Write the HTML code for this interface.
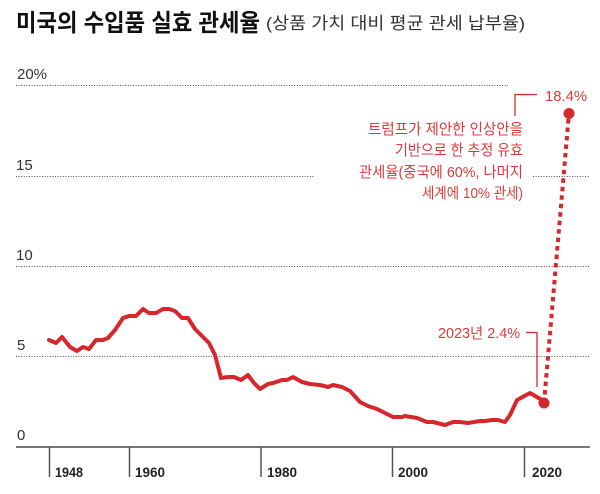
<!DOCTYPE html>
<html>
<head>
<meta charset="utf-8">
<style>
  html, body { margin: 0; padding: 0; background: #ffffff; }
  body { width: 600px; height: 494px; overflow: hidden; }
  svg { display: block; }
  .kr { font-family: "Liberation Sans", "Noto Sans CJK KR", "NanumGothic", sans-serif; }
</style>
</head>
<body>
<svg width="600" height="494" viewBox="0 0 600 494" xmlns="http://www.w3.org/2000/svg">
  <rect width="600" height="494" fill="#ffffff"/>

  <!-- Title -->
  <text class="kr" x="16" y="31" font-size="24" font-weight="bold" fill="#111111" textLength="244" lengthAdjust="spacingAndGlyphs">미국의 수입품 실효 관세율</text>
  <text class="kr" x="266" y="29" font-size="17" fill="#333333" textLength="259" lengthAdjust="spacingAndGlyphs">(상품 가치 대비 평균 관세 납부율)</text>

  <!-- Gridlines (dotted) -->
  <g stroke="#555555" stroke-width="1" stroke-dasharray="1,1.6" fill="none">
    <line x1="16" y1="85.5" x2="508" y2="85.5"/>
    <line x1="16" y1="176.5" x2="314" y2="176.5"/>
    <line x1="533" y1="176.5" x2="590" y2="176.5"/>
    <line x1="16" y1="266.5" x2="590" y2="266.5"/>
    <line x1="16" y1="356.5" x2="590" y2="356.5"/>
  </g>

  <!-- Y labels -->
  <g class="kr" font-size="15" fill="#333333">
    <text x="17" y="79" textLength="30" lengthAdjust="spacingAndGlyphs">20%</text>
    <text x="16" y="170">15</text>
    <text x="16" y="260">10</text>
    <text x="17" y="350">5</text>
    <text x="17" y="440">0</text>
  </g>

  <!-- X axis -->
  <line x1="16" y1="447" x2="590" y2="447" stroke="#777777" stroke-width="2"/>
  <g stroke="#555555" stroke-width="1.5">
    <line x1="49.5" y1="447" x2="49.5" y2="477"/>
    <line x1="129.5" y1="447" x2="129.5" y2="477"/>
    <line x1="261" y1="447" x2="261" y2="477"/>
    <line x1="392.5" y1="447" x2="392.5" y2="477"/>
    <line x1="524.5" y1="447" x2="524.5" y2="477"/>
  </g>
  <g class="kr" font-size="14" font-weight="bold" fill="#222222">
    <text x="55" y="477" textLength="28" lengthAdjust="spacingAndGlyphs">1948</text>
    <text x="135" y="477" textLength="30" lengthAdjust="spacingAndGlyphs">1960</text>
    <text x="267" y="477" textLength="30" lengthAdjust="spacingAndGlyphs">1980</text>
    <text x="398" y="477" textLength="30" lengthAdjust="spacingAndGlyphs">2000</text>
    <text x="532" y="477" textLength="30" lengthAdjust="spacingAndGlyphs">2020</text>
  </g>

  <!-- Series -->
  <polyline fill="none" stroke="#d6272d" stroke-width="4" stroke-linejoin="round" stroke-linecap="round"
    points="49,340 56,343 62,337 70,347 77,351 83,347 89,349 96,340 103,340 108,338 115,330 123,318 129,316 136,316 143,309 149,313 156,313 163,309 169,309 175,311 182,318 188,318 195,329 203,337 209,343 215,355 221,378 228,377 234,377 241,380 248,375 254,383 260,389 268,384 273,383 282,380 287,380 293,377 302,382 310,384 320,385 328,387 333,385 342,387 350,391 360,402 368,406 377,409 383,412 393,417 402,417 405,416 417,418 427,422 433,422 445,425 453,422 460,422 468,423 480,421 485,421 492,420 498,420 505,422 510,415 517,400 530,393 542,400 544,403"/>

  <!-- Projection dotted line -->
  <line x1="544" y1="403" x2="569" y2="113" stroke="#d6272d" stroke-width="4" stroke-dasharray="4.5,4"/>
  <circle cx="544" cy="403" r="5.5" fill="#d6272d"/>
  <circle cx="569" cy="113.5" r="5.5" fill="#d6272d"/>

  <!-- Leader lines -->
  <polyline fill="none" stroke="#d6272d" stroke-width="1.3" points="515,116 515,94.5 537,94.5"/>
  <polyline fill="none" stroke="#d6272d" stroke-width="1.3" points="526,332.5 537,332.5 537,387"/>

  <!-- Annotations -->
  <g class="kr" font-size="15" fill="#dc3a3e">
    <text x="545" y="101" textLength="42" lengthAdjust="spacingAndGlyphs">18.4%</text>
    <text x="438" y="338" textLength="82" lengthAdjust="spacingAndGlyphs">2023년 2.4%</text>
    <text x="523" y="134" text-anchor="end" textLength="155" lengthAdjust="spacingAndGlyphs">트럼프가 제안한 인상안을</text>
    <text x="523" y="155" text-anchor="end" textLength="128" lengthAdjust="spacingAndGlyphs">기반으로 한 추정 유효</text>
    <text x="523" y="177" text-anchor="end" textLength="164" lengthAdjust="spacingAndGlyphs">관세율(중국에 60%, 나머지</text>
    <text x="523" y="198" text-anchor="end" textLength="101" lengthAdjust="spacingAndGlyphs">세계에 10% 관세)</text>
  </g>
</svg>
</body>
</html>
